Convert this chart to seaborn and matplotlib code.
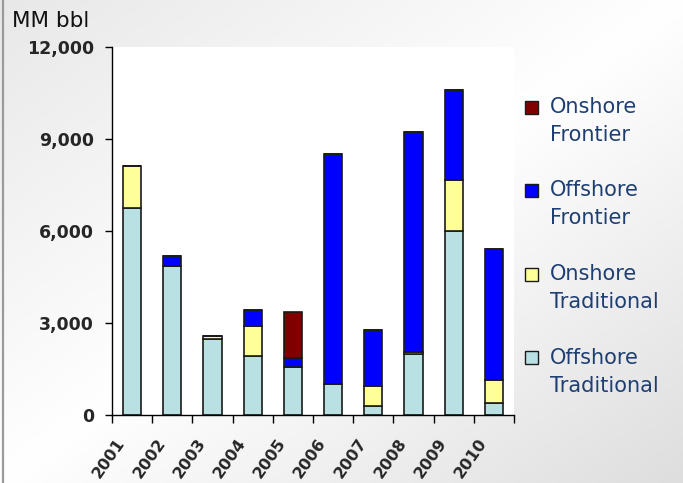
import numpy as np
import pandas as pd
import matplotlib
matplotlib.use("Agg")
import matplotlib.pyplot as plt
from matplotlib.patches import Rectangle
import seaborn as sns

# Annual discovered volumes by play type (MM bbl)
years = [2001, 2002, 2003, 2004, 2005, 2006, 2007, 2008, 2009, 2010]
offshore_traditional = [6750, 4850, 2460, 1920, 1550, 990, 290, 1970, 5980, 370]
onshore_traditional = [1350, 0, 110, 960, 0, 0, 635, 75, 1660, 750]
offshore_frontier = [0, 320, 0, 540, 300, 7520, 1825, 7175, 2950, 4270]
onshore_frontier = [0, 0, 0, 0, 1500, 0, 0, 0, 0, 0]

series_names = ["Onshore Frontier", "Offshore Frontier",
                "Onshore Traditional", "Offshore Traditional"]
legend_lines = [("Onshore", "Frontier"), ("Offshore", "Frontier"),
                ("Onshore", "Traditional"), ("Offshore", "Traditional")]
colors = ["#800000", "#0000ff", "#ffff99", "#b9e0e3"]
y_ticks = [0, 3000, 6000, 9000, 12000]

frames = []
for name, vals in zip(series_names, [onshore_frontier, offshore_frontier,
                                     onshore_traditional, offshore_traditional]):
    frames.append(pd.DataFrame({"year": years, "volume": vals, "type": name}))
df = pd.concat(frames, ignore_index=True)
df = df[df["volume"] > 0]

sns.set_style("white")
plt.rcParams["font.family"] = ["DejaVu Sans"]

W, H = 683, 483
fig = plt.figure(figsize=(W / 100, H / 100), dpi=100)

# Diagonal light-gray backdrop
bg = fig.add_axes([0, 0, 1, 1], zorder=-10)
u = np.linspace(0, 1, 300)[None, :]
v = np.linspace(0, 1, 220)[:, None]
t = (u + v) / 2.0
lum = np.where(t < 0.5, 1 - (0.5 - t) * 2 * 0.09, 1 - (t - 0.5) * 2 * 0.13)
bg.imshow(np.dstack([lum, lum, lum]), aspect="auto", extent=[0, 1, 0, 1],
          origin="upper", interpolation="bilinear")
bg.axis("off")
fig.add_artist(plt.Line2D([2.5 / W, 2.5 / W], [0, 1], color="#9a9a9a", lw=1.6,
                          transform=fig.transFigure))

ax = fig.add_axes([112 / W, 1 - 414.7 / H, (514 - 112) / W, (414.7 - 46.7) / H])
ax.set_facecolor("white")

sns.histplot(data=df, x="year", weights="volume", hue="type",
             hue_order=series_names, palette=dict(zip(series_names, colors)),
             multiple="stack", discrete=True, shrink=0.45, alpha=1,
             edgecolor="#1a1a1a", linewidth=1.2, legend=False, ax=ax)

ax.set_xlim(years[0] - 0.5, years[-1] + 0.5)
ax.set_ylim(0, 12000)
ax.set_yticks(y_ticks)
ax.set_yticklabels([f"{v:,}" for v in y_ticks], fontsize=12.5, fontweight="bold")
ax.tick_params(axis="y", direction="out", length=5, width=1, pad=8, color="black",
               left=True)

# Category boundaries carry the tick marks; labels sit just left of centers
ax.set_xticks([y - 0.5 for y in years] + [years[-1] + 0.5])
ax.set_xticklabels([])
ax.set_xticks([y - 0.1 for y in years], minor=True)
ax.set_xticklabels([str(y) for y in years], minor=True, rotation=55,
                   ha="right", va="top", rotation_mode="default",
                   fontsize=11.5, fontweight="bold")
ax.tick_params(axis="x", which="major", direction="out", length=6, width=1,
               color="black", bottom=True)
ax.tick_params(axis="x", which="minor", length=0, pad=15)
ax.set_xlabel("")
ax.set_ylabel("")
for side in ["top", "right"]:
    ax.spines[side].set_visible(False)
for side in ["left", "bottom"]:
    ax.spines[side].set_color("black")
    ax.spines[side].set_linewidth(1.0)

fig.text(12 / W, 1 - 21 / H, "MM bbl", fontsize=15.5, va="center", ha="left",
         color="#111111")

# Legend: swatch beside the first line of each two-line label
text_color = "#1f3f73"
for i, ((l1, l2), c) in enumerate(zip(legend_lines, colors)):
    yc = 107 + 83.5 * i
    fig.add_artist(Rectangle((525 / W, 1 - (yc + 6.5) / H), 13 / W, 13 / H,
                             facecolor=c, edgecolor="#1a1a1a", linewidth=1.0,
                             transform=fig.transFigure))
    fig.text(550 / W, 1 - yc / H, l1, fontsize=15, color=text_color,
             va="center", ha="left")
    fig.text(550 / W, 1 - (yc + 28) / H, l2, fontsize=15, color=text_color,
             va="center", ha="left")

fig.savefig("out.png", dpi=100)
